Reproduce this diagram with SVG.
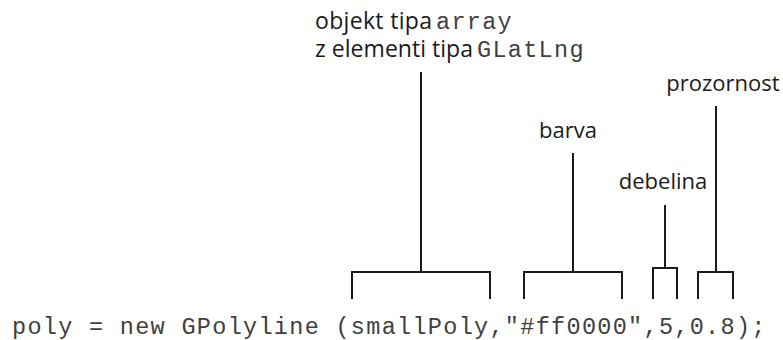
<svg xmlns="http://www.w3.org/2000/svg" width="783" height="340" viewBox="0 0 783 340">
  <style>
    .lbl { font-family: "Open Sans", "Liberation Sans", sans-serif; font-size: 22px; fill: #1a1a1a; }
    .big { font-size: 23px; }
    .mono { font-family: "Liberation Mono", "DejaVu Sans Mono", monospace; font-size: 23.5px; letter-spacing: 1.3px; fill: #404040; }
    .br { fill: none; stroke: #1a1a1a; stroke-width: 2; }
  </style>
  <rect width="783" height="340" fill="#ffffff"/>

  <!-- labels -->
  <g id="label-array">
    <text class="lbl big" x="315" y="29" textLength="117">objekt tipa</text>
    <text class="mono" x="436" y="29">array</text>
    <text class="lbl big" x="315" y="57" textLength="158">z elementi tipa</text>
    <text class="mono" x="477" y="57">GLatLng</text>
  </g>
  <g id="label-barva">
    <text class="lbl" x="568" y="138" text-anchor="middle">barva</text>
  </g>
  <g id="label-debelina">
    <text class="lbl" x="663" y="189" text-anchor="middle">debelina</text>
  </g>
  <g id="label-prozornost">
    <text class="lbl" x="723" y="91" text-anchor="middle">prozornost</text>
  </g>

  <!-- code line -->
  <g id="code">
    <text class="mono" x="12" y="334">poly = new GPolyline (smallPoly,"#ff0000",5,0.8);</text>
  </g>

  <!-- brackets with their stems -->
  <g id="connectors">
    <path class="br" d="M352,299 V272 H490 V299 M421,272 V72"/>
    <path class="br" d="M524,299 V272 H622 V299 M573,272 V153"/>
    <path class="br" d="M653,299 V268 H677 V299 M665,268 V205"/>
    <path class="br" d="M698,299 V272 H733 V299 M716,272 V106"/>
  </g>
</svg>
